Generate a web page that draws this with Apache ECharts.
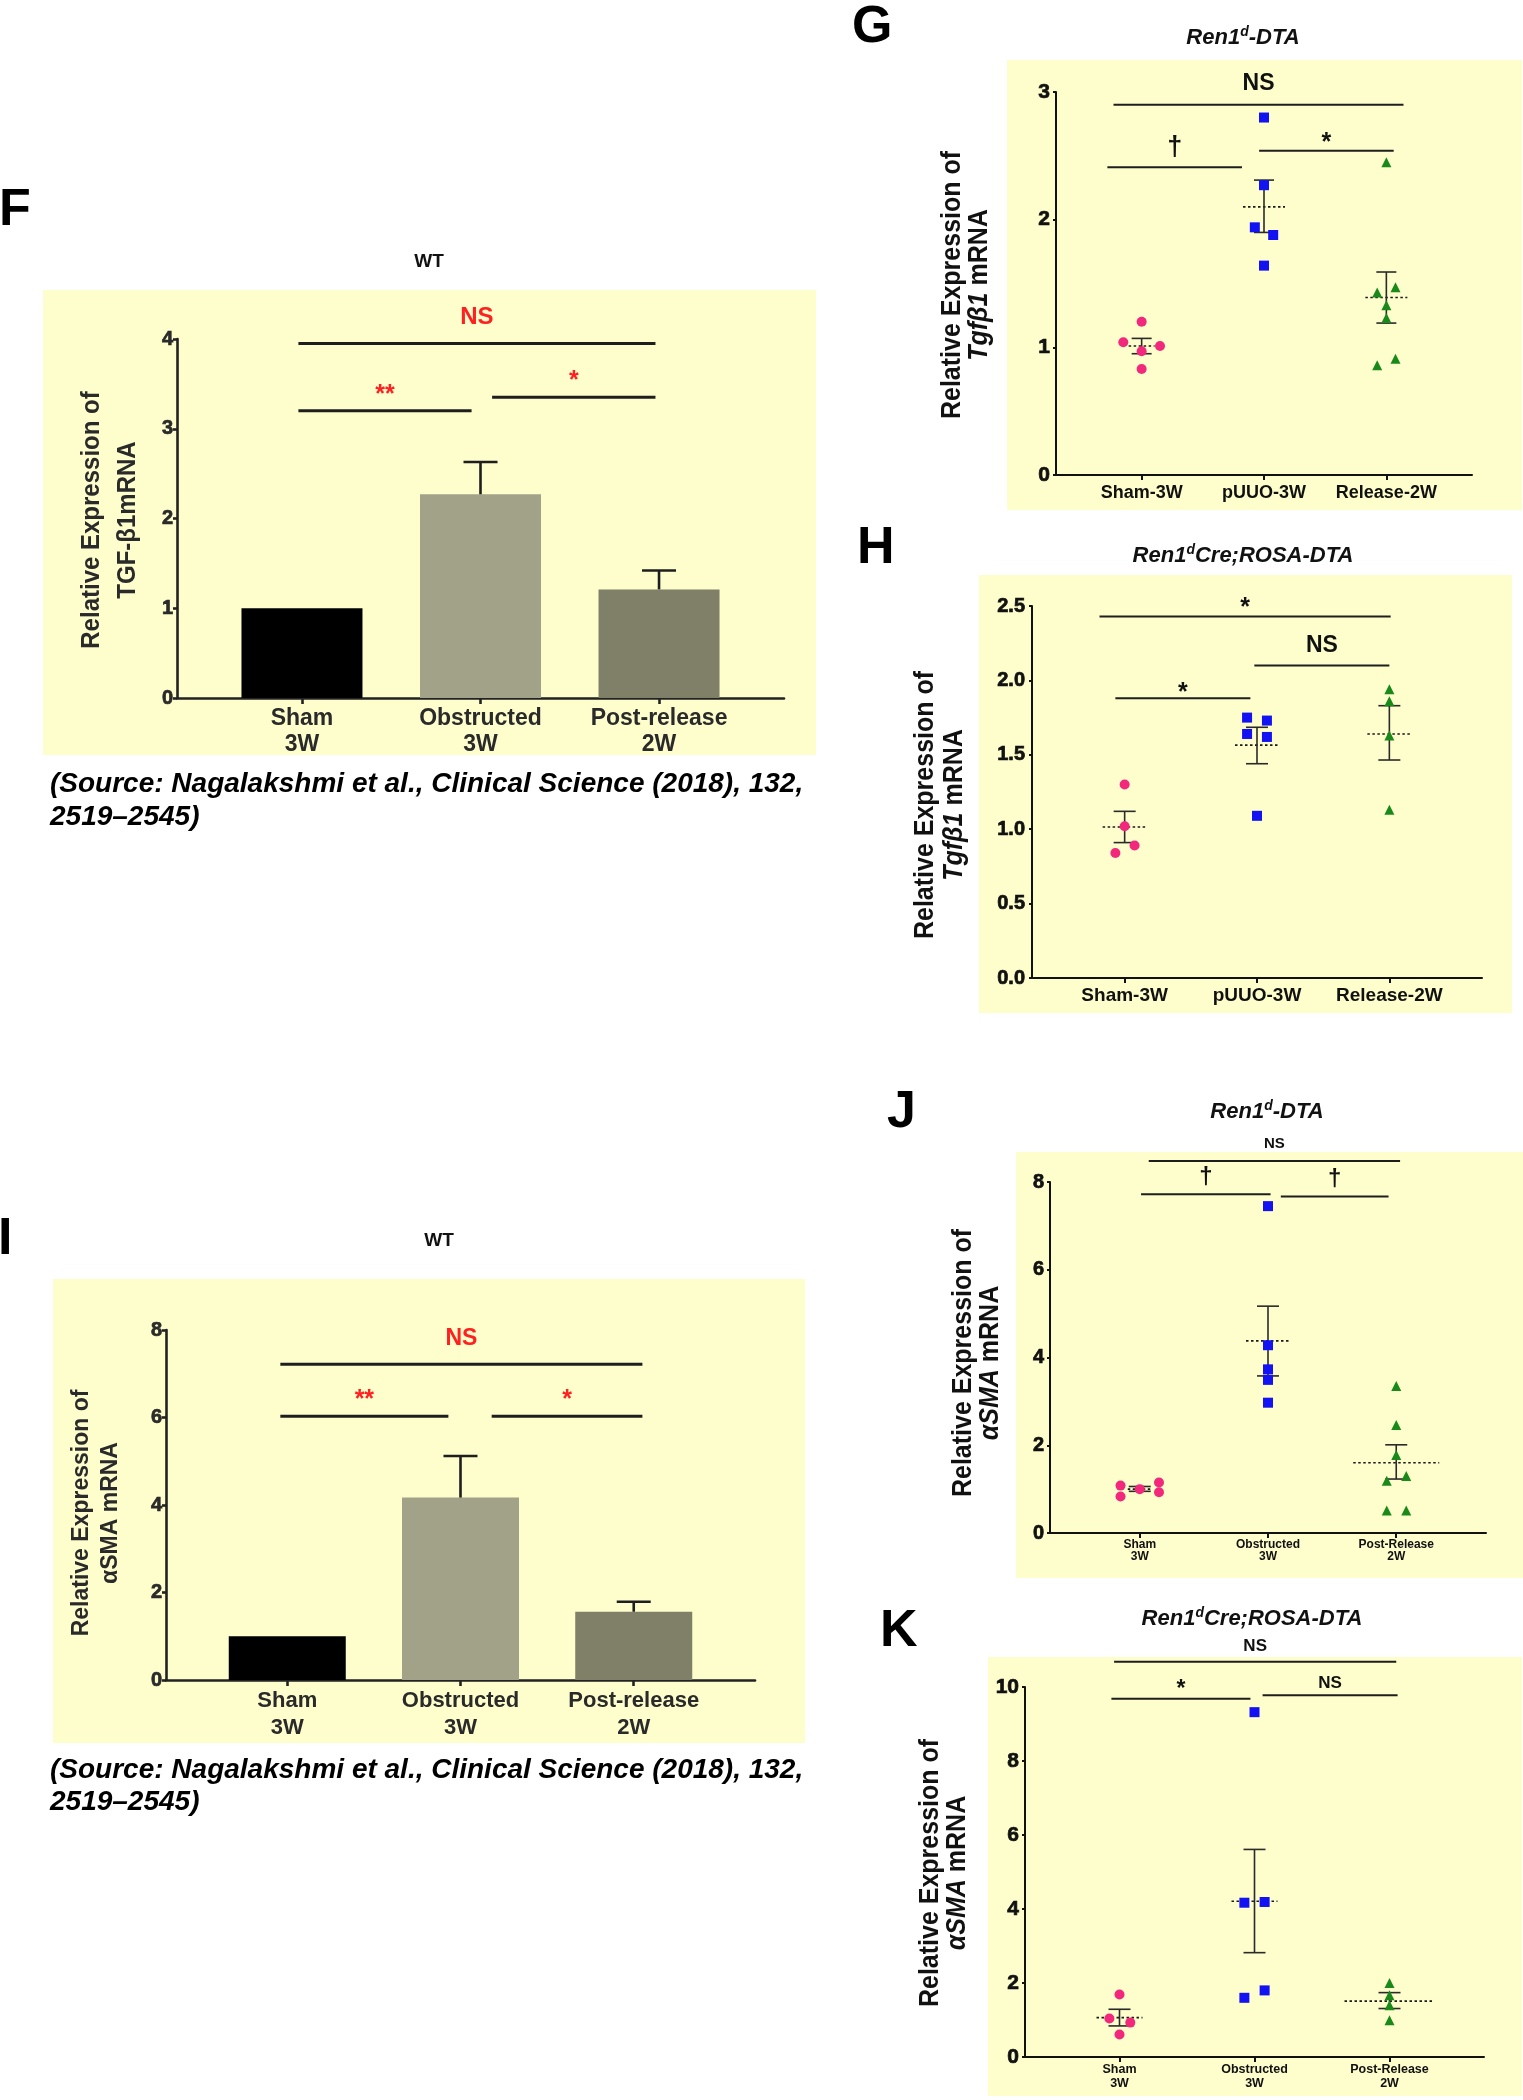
<!DOCTYPE html>
<html>
<head>
<meta charset="utf-8">
<title>TGF-b1 and aSMA expression</title>
<script src="https://cdn.jsdelivr.net/npm/echarts@6.0.0/dist/echarts.min.js"></script>
<style>
  html, body { margin: 0; padding: 0; background: #ffffff; }
  #main { width: 1523px; height: 2100px; }
</style>
</head>
<body>
<div id="main"></div>
<script>
// ---------- values ----------
// WT bar charts (F: TGF-b1, I: aSMA)
var wtCats = ["Sham\n3W", "Obstructed\n3W", "Post-release\n2W"];
var fTicks = [0, 1, 2, 3, 4];
var fMean = [1.0, 2.27, 1.21];
var fTop = [1.0, 2.63, 1.42];
// significance bars: [from, to, y, label]
var fSig = [[-0.02, 1.98, 3.95, "NS"], [-0.02, 0.95, 3.2, "**"], [1.065, 1.98, 3.35, "*"]];

var iTicks = [0, 2, 4, 6, 8];
var iMean = [1.0, 4.17, 1.56];
var iTop = [1.0, 5.12, 1.79];
var iSig = [[-0.04, 2.05, 7.22, "NS"], [-0.04, 0.93, 6.03, "**"], [1.18, 2.05, 6.03, "*"]];

// G: Ren1d-DTA, Tgfb1
var dtaCats = ["Sham-3W", "pUUO-3W", "Release-2W"];
var gTicks = [0, 1, 2, 3];
var gSham = [1.20, 1.04, 1.01, 0.97, 0.83];
var gUuo = [2.80, 2.27, 1.94, 1.88, 1.64];
var gRel = [2.45, 1.47, 1.43, 1.33, 1.23, 0.91, 0.86];
var gShamJit = [0, -0.15, 0.15, 0, 0];
var gUuoJit = [0, 0, -0.075, 0.075, 0];
var gRelJit = [0, 0.075, -0.075, 0, 0, 0.075, -0.075];
var gMean = [1.01, 2.10, 1.39];
var gLo = [0.95, 1.90, 1.19];
var gHi = [1.07, 2.31, 1.59];
var gSig = [[-0.23, 2.14, 2.90, "NS"], [-0.28, 0.82, 2.41, "†"], [0.96, 2.06, 2.54, "*"]];

// H: Ren1dCre;ROSA-DTA, Tgfb1
var hTicks = [0, 0.5, 1.0, 1.5, 2.0, 2.5];
var hSham = [1.30, 1.02, 0.89, 0.84];
var hUuo = [1.75, 1.73, 1.64, 1.62, 1.09];
var hRel = [1.94, 1.86, 1.63, 1.13];
var hShamJit = [0, 0, 0.075, -0.07];
var hUuoJit = [-0.075, 0.075, -0.075, 0.075, 0];
var hRelJit = [0, 0, 0, 0];
var hMean = [1.015, 1.565, 1.64];
var hLo = [0.91, 1.44, 1.465];
var hHi = [1.12, 1.685, 1.83];
var hSig = [[-0.19, 2.01, 2.43, "*"], [0.98, 2.0, 2.10, "NS"], [-0.07, 0.95, 1.88, "*"]];

// J: Ren1d-DTA, aSMA
var smaCats = ["Sham\n3W", "Obstructed\n3W", "Post-Release\n2W"];
var jTicks = [0, 2, 4, 6, 8];
var jSham = [1.08, 0.83, 1.00, 1.15, 0.93];
var jObs = [7.45, 4.28, 3.73, 3.49, 2.97];
var jPost = [3.35, 2.46, 1.78, 1.30, 1.19, 0.51, 0.51];
var jShamJit = [-0.15, -0.15, 0, 0.15, 0.15];
var jObsJit = [0, 0, 0, 0, 0];
var jPostJit = [0, 0, 0, 0.078, -0.074, -0.074, 0.078];
var jMean = [1.0, 4.38, 1.60];
var jLo = [0.95, 3.58, 1.23];
var jHi = [1.06, 5.17, 2.01];
var jSig = [[0.07, 2.03, 8.48, "NS"], [0.01, 1.02, 7.72, "†"], [1.10, 1.94, 7.67, "†"]];

// K: Ren1dCre;ROSA-DTA, aSMA
var kTicks = [0, 2, 4, 6, 8, 10];
var kSham = [1.69, 1.04, 0.93, 0.61];
var kObs = [9.32, 4.17, 4.19, 1.80, 1.60];
var kPost = [2.00, 1.67, 1.40, 0.99];
var kShamJit = [0, -0.075, 0.08, 0];
var kObsJit = [0, -0.075, 0.075, 0.075, -0.075];
var kPostJit = [0, 0, 0, 0];
var kMean = [1.065, 4.21, 1.51];
var kLo = [0.84, 2.82, 1.31];
var kHi = [1.29, 5.61, 1.74];
var kSig = [[-0.04, 2.05, 10.68, "NS"], [-0.06, 0.97, 9.68, "*"], [1.06, 2.06, 9.78, "NS"]];

// ---------- chart ----------
var FONT = "'Liberation Sans', Arial, sans-serif";
var YELLOW = "#fefdcc";
var PINK = "#f2287d", BLUE = "#1212f2", GREEN = "#198a1a";

var chart = echarts.init(document.getElementById("main"));
var grids = [], xAxes = [], yAxes = [], series = [], graphics = [];

function font(size, weight, style, fam) {
  return (style || "normal") + " " + (weight || "bold") + " " + size + "px " + (fam || FONT);
}

function addPanel(p) {
  var k = grids.length;
  var idx = [0, 1, 2];
  grids.push({ left: p.rect[0], top: p.rect[1], width: p.rect[2], height: p.rect[3], outerBoundsMode: "none" });
  var line = { color: p.axisColor, width: p.axisWidth };
  xAxes.push({
    gridIndex: k, type: "value", min: -0.7, max: 2.7,
    axisLine: { show: true, onZero: false, lineStyle: line },
    axisTick: { show: true, customValues: idx, length: p.xTickLen, lineStyle: line },
    axisLabel: {
      show: true, customValues: idx, margin: p.xMargin, color: p.textColor,
      fontFamily: FONT, fontWeight: "bold", fontSize: p.xSize, lineHeight: p.xLine,
      formatter: function (v) { return p.cats[Math.round(v)]; }
    },
    splitLine: { show: false }
  });
  yAxes.push({
    gridIndex: k, type: "value", min: p.ticks[0], max: p.ticks[p.ticks.length - 1],
    interval: p.ticks[1] - p.ticks[0],
    axisLine: { show: true, onZero: false, lineStyle: line },
    axisTick: { show: true, length: p.yTickLen, lineStyle: line },
    axisLabel: {
      margin: p.yMargin, color: p.textColor, fontFamily: FONT, fontWeight: "bold", fontSize: p.ySize,
      textBorderColor: p.textColor, textBorderWidth: 0.7,
      formatter: function (v) { return p.decimals ? v.toFixed(p.decimals) : String(v); }
    },
    splitLine: { show: false }
  });
  return k;
}

function addBars(k, mean, top, colors, barWidth, capHalf) {
  series.push({
    type: "bar", xAxisIndex: k, yAxisIndex: k, barWidth: barWidth, z: 2,
    data: mean.map(function (v, i) { return { value: [i, v], itemStyle: { color: colors[i] } }; })
  });
  series.push({
    type: "custom", xAxisIndex: k, yAxisIndex: k, z: 3,
    data: mean.map(function (v, i) { return [i, v, top[i]]; }),
    renderItem: function (params, api) {
      var x = api.value(0), m = api.value(1), t = api.value(2);
      if (!(t > m)) return { type: "group", children: [] };
      var a = api.coord([x, m]), b = api.coord([x, t]);
      var st = { stroke: "#1e1e1e", lineWidth: 2.6 };
      return { type: "group", children: [
        { type: "line", shape: { x1: a[0], y1: a[1], x2: b[0], y2: b[1] }, style: st },
        { type: "line", shape: { x1: b[0] - capHalf, y1: b[1], x2: b[0] + capHalf, y2: b[1] }, style: st }
      ] };
    }
  });
}

function addDots(k, groups, jits, mean, lo, hi, meanHalf, capHalf) {
  var symbols = ["circle", "rect", "triangle"];
  var colors = [PINK, BLUE, GREEN];
  var sizes = [10, 10, 10];
  series.push({
    type: "custom", xAxisIndex: k, yAxisIndex: k, z: 3,
    data: mean.map(function (v, i) { return [i, v, lo[i], hi[i]]; }),
    renderItem: function (params, api) {
      var i = params.dataIndex;
      var c = api.coord([api.value(0), api.value(1)]);
      var l = api.coord([api.value(0), api.value(2)]);
      var h = api.coord([api.value(0), api.value(3)]);
      var st = { stroke: "#2a2a2a", lineWidth: 1.6 };
      return { type: "group", children: [
        { type: "line", shape: { x1: c[0] - meanHalf[i], y1: c[1], x2: c[0] + meanHalf[i], y2: c[1] },
          style: { stroke: "#1a1a1a", lineWidth: 1.6, lineDash: [2.5, 2.5] } },
        { type: "line", shape: { x1: l[0], y1: l[1], x2: h[0], y2: h[1] }, style: st },
        { type: "line", shape: { x1: l[0] - capHalf, y1: l[1], x2: l[0] + capHalf, y2: l[1] }, style: st },
        { type: "line", shape: { x1: h[0] - capHalf, y1: h[1], x2: h[0] + capHalf, y2: h[1] }, style: st }
      ] };
    }
  });
  groups.forEach(function (vals, g) {
    series.push({
      type: "scatter", xAxisIndex: k, yAxisIndex: k, z: 4,
      symbol: symbols[g], symbolSize: sizes[g], itemStyle: { color: colors[g], opacity: 1 },
      data: vals.map(function (v, i) { return [g + jits[g][i], v]; })
    });
  });
}

function addSig(k, sig, lifts, color, lineWidth, nsSize, symSize, dagSize) {
  series.push({
    type: "custom", xAxisIndex: k, yAxisIndex: k, z: 5,
    data: sig.map(function (s) { return [s[0], s[2]]; }),
    renderItem: function (params, api) {
      var s = sig[params.dataIndex];
      var a = api.coord([s[0], s[2]]), b = api.coord([s[1], s[2]]);
      var fs = s[3] === "NS" ? nsSize : (s[3] === "†" ? dagSize : symSize);
      var adj = 0;
      if (s[3].charAt(0) === "*") adj = 0.22 * fs;
      if (s[3] === "†") adj = -0.06 * fs;
      var cy = a[1] - lifts[params.dataIndex] + adj;
      return { type: "group", children: [
        { type: "line", shape: { x1: a[0], y1: a[1], x2: b[0], y2: b[1] }, style: { stroke: "#1e1e1e", lineWidth: lineWidth } },
        { type: "text", x: (a[0] + b[0]) / 2, y: cy,
          style: { text: s[3], fill: color, font: font(fs), align: "center", verticalAlign: "middle",
                   textAlign: "center", textVerticalAlign: "middle" } }
      ] };
    }
  });
}

// ---- decorations (backgrounds, letters, titles, axis names, source) ----
function rect(x, y, w, h) {
  graphics.push({ type: "rect", z: -10, shape: { x: x, y: y, width: w, height: h }, style: { fill: YELLOW } });
}
function text(x, y, str, fnt, opts) {
  opts = opts || {};
  graphics.push({
    type: "text", x: x, y: y, z: 10, rotation: opts.rot || 0, scaleY: opts.sy || 1,
    style: {
      text: str, font: fnt, fill: opts.color || "#000",
      align: opts.align || "center", verticalAlign: "middle",
      textAlign: opts.align || "center", textVerticalAlign: "middle",
      lineHeight: opts.lineHeight, rich: opts.rich
    }
  });
}
function richSet(size, lh) {
  return {
    n: { fontSize: size, fontWeight: "bold", fontFamily: FONT, lineHeight: lh, fill: "#111" },
    i: { fontSize: size, fontWeight: "bold", fontStyle: "italic", fontFamily: FONT, lineHeight: lh, fill: "#111" }
  };
}
function titleRich(size) {
  return {
    b: { fontSize: size, fontWeight: "bold", fontStyle: "italic", fontFamily: FONT, verticalAlign: "bottom", lineHeight: size + 2, fill: "#111" },
    s: { fontSize: Math.round(size * 0.62), fontWeight: "bold", fontStyle: "italic", fontFamily: FONT, verticalAlign: "top", lineHeight: size + 2, fill: "#111" }
  };
}

rect(43, 290, 773, 465);
rect(53, 1279, 752, 464);
rect(1007, 60, 515, 450);
rect(979, 575, 533, 438);
rect(1016, 1152, 507, 426);
rect(988, 1657, 534, 439);

var VERT = Math.PI / 2;
// panel letters
text(-1, 211, "F", font(52), { align: "left" });
text(852, 28, "G", font(52), { align: "left" });
text(857, 549, "H", font(52), { align: "left" });
text(-2, 1240, "I", font(52), { align: "left" });
text(887, 1113, "J", font(52), { align: "left" });
text(880, 1632, "K", font(52), { align: "left" });

// titles
text(429, 262, "WT", font(19), { color: "#111" });
text(439, 1241, "WT", font(19), { color: "#111" });
text(1243, 37, "{b|Ren1}{s|d}{b|-DTA}", font(22, "bold", "italic"), { rich: titleRich(22) });
text(1243, 555, "{b|Ren1}{s|d}{b|Cre;ROSA-DTA}", font(22, "bold", "italic"), { rich: titleRich(22) });
text(1267, 1111, "{b|Ren1}{s|d}{b|-DTA}", font(22, "bold", "italic"), { rich: titleRich(22) });
text(1252, 1618, "{b|Ren1}{s|d}{b|Cre;ROSA-DTA}", font(22, "bold", "italic"), { rich: titleRich(22) });

// y axis names
text(110, 520, "Relative Expression of\nTGF-β1mRNA", font(24), { rot: VERT, sy: 1.08, lineHeight: 33, color: "#2a2a2a" });
text(96, 1513, "Relative Expression of\nαSMA mRNA", font(23), { rot: VERT, sy: 1.08, lineHeight: 27, color: "#2a2a2a" });
text(966, 285, "{n|Relative Expression of}\n{i|Tgfβ1}{n| mRNA}", font(25), { rot: VERT, sy: 1.1, rich: richSet(25, 25) });
text(940, 805, "{n|Relative Expression of}\n{i|Tgfβ1}{n| mRNA}", font(25), { rot: VERT, sy: 1.1, rich: richSet(25, 27) });
text(977, 1363, "{n|Relative Expression of}\n{i|αSMA}{n| mRNA}", font(25), { rot: VERT, sy: 1.1, rich: richSet(25, 24.5) });
text(944, 1873, "{n|Relative Expression of}\n{i|αSMA}{n| mRNA}", font(25), { rot: VERT, sy: 1.1, rich: richSet(25, 25) });

// source notes
var srcLine1 = "(Source: Nagalakshmi et al., Clinical Science (2018), 132,";
var srcLine2 = "2519–2545)";
text(50, 784, srcLine1, font(28, "bold", "italic"), { align: "left" });
text(50, 817, srcLine2, font(28, "bold", "italic"), { align: "left" });
text(50, 1770, srcLine1, font(28, "bold", "italic"), { align: "left" });
text(50, 1802, srcLine2, font(28, "bold", "italic"), { align: "left" });

// ---- panels ----
var barColors = ["#000000", "#a2a288", "#807f67"];

var kF = addPanel({ rect: [177, 339, 607, 359], ticks: fTicks, cats: wtCats, axisColor: "#222", axisWidth: 2.6,
  xTickLen: 6, yTickLen: 4, xMargin: 8, xSize: 23, xLine: 26, yMargin: 4, ySize: 20, textColor: "#2a2a2a" });
addBars(kF, fMean, fTop, barColors, 121, 17);
addSig(kF, fSig, [26, 21, 22], "#ff2020", 3, 24, 25, 25);

var kI = addPanel({ rect: [166, 1330, 589, 350], ticks: iTicks, cats: wtCats, axisColor: "#222", axisWidth: 2.6,
  xTickLen: 6, yTickLen: 4, xMargin: 7, xSize: 22, xLine: 27, yMargin: 4, ySize: 20, textColor: "#2a2a2a" });
addBars(kI, iMean, iTop, barColors, 117, 17);
addSig(kI, iSig, [25, 22, 22], "#ff2020", 3, 23, 25, 25);

var kG = addPanel({ rect: [1056, 92, 416, 383], ticks: gTicks, cats: dtaCats, axisColor: "#111", axisWidth: 2,
  xTickLen: 5, yTickLen: 3, xMargin: 8, xSize: 18, xLine: 20, yMargin: 6, ySize: 21, textColor: "#111" });
addDots(kG, [gSham, gUuo, gRel], [gShamJit, gUuoJit, gRelJit], gMean, gLo, gHi, [13, 21, 21], 10);
addSig(kG, gSig, [21, 18, 13.5], "#111", 2, 23, 25, 27);

var kH = addPanel({ rect: [1032, 606, 450, 372], ticks: hTicks, decimals: 1, cats: dtaCats, axisColor: "#111", axisWidth: 2,
  xTickLen: 5, yTickLen: 3, xMargin: 7, xSize: 19, xLine: 21, yMargin: 7, ySize: 20, textColor: "#111" });
addDots(kH, [hSham, hUuo, hRel], [hShamJit, hUuoJit, hRelJit], hMean, hLo, hHi, [22, 22, 22], 11);
addSig(kH, hSig, [13.6, 20, 10.4], "#111", 2, 23, 25, 27);

var kJ = addPanel({ rect: [1050, 1182, 436, 351], ticks: jTicks, cats: smaCats, axisColor: "#111", axisWidth: 2,
  xTickLen: 5, yTickLen: 3, xMargin: 5, xSize: 12, xLine: 12.5, yMargin: 6, ySize: 20, textColor: "#111" });
addDots(kJ, [jSham, jObs, jPost], [jShamJit, jObsJit, jPostJit], jMean, jLo, jHi, [12, 22, 43], 11);
addSig(kJ, jSig, [17.5, 15.5, 15.5], "#111", 2, 15, 20, 24);

var kK = addPanel({ rect: [1025, 1687, 459, 370], ticks: kTicks, cats: smaCats, axisColor: "#111", axisWidth: 2,
  xTickLen: 5, yTickLen: 3, xMargin: 6, xSize: 12.5, xLine: 14, yMargin: 6, ySize: 21, textColor: "#111" });
addDots(kK, [kSham, kObs, kPost], [kShamJit, kObsJit, kPostJit], kMean, kLo, kHi, [23, 23, 45], 11);
addSig(kK, kSig, [15.3, 14, 12.3], "#111", 2, 17, 23, 24);

chart.setOption({
  backgroundColor: "#ffffff",
  animation: false,
  grid: grids,
  xAxis: xAxes,
  yAxis: yAxes,
  series: series,
  graphic: { elements: graphics }
});

window.onresize = function () {
  chart.resize();
};
</script>
</body>
</html>
